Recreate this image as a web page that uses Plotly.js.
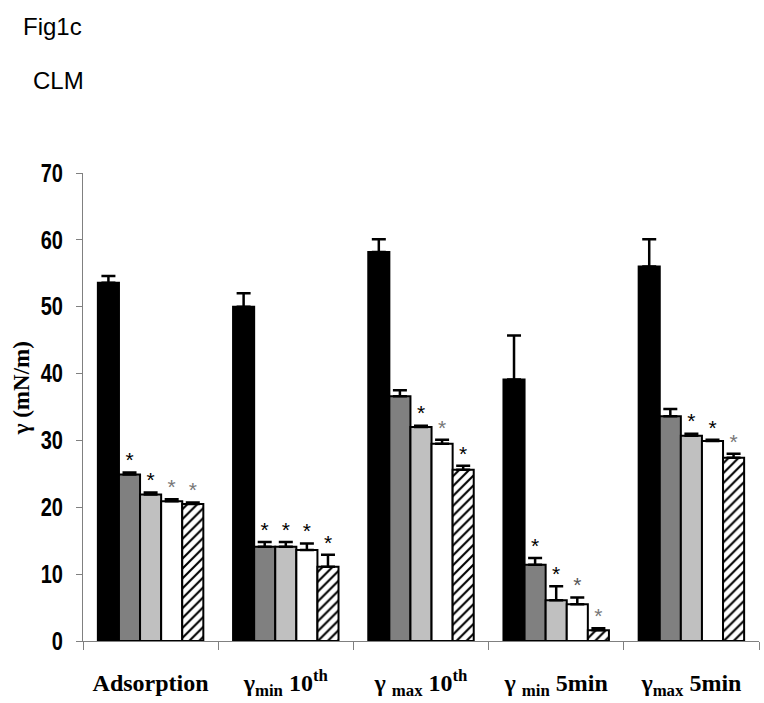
<!DOCTYPE html>
<html>
<head>
<meta charset="utf-8">
<script src="https://cdn.plot.ly/plotly-3.0.1.min.js"></script>
<style>html,body{margin:0;padding:0;background:#fff;}#chart{width:764px;height:703px;}</style>
</head>
<body>
<div id="chart"></div>
<script>
const categories = ["Adsorption", "γ<sub>min</sub> 10<sup>th</sup>", "γ <sub>max</sub> 10<sup>th</sup>", "γ <sub>min</sub> 5min", "γ<sub>max</sub> 5min"];
const tickValues = [0, 10, 20, 30, 40, 50, 60, 70];

const s1Values = [53.6, 50.0, 58.2, 39.1, 56.0];
const s1Errors = [1.0, 2.0, 1.9, 6.6, 4.1];
const s1Stars = ["", "", "", "", ""];
const s1StarColors = ["#000", "#000", "#000", "#000", "#000"];

const s2Values = [24.9, 14.1, 36.6, 11.4, 33.6];
const s2Errors = [0.3, 0.7, 0.9, 1.0, 1.1];
const s2Stars = ["*", "*", "", "*", ""];
const s2StarColors = ["#000", "#000", "#000", "#000", "#000"];

const s3Values = [21.9, 14.1, 32.0, 6.1, 30.7];
const s3Errors = [0.3, 0.7, 0.2, 2.1, 0.3];
const s3Stars = ["*", "*", "*", "*", "*"];
const s3StarColors = ["#000", "#000", "#000", "#000", "#000"];

const s4Values = [20.9, 13.6, 29.5, 5.5, 29.9];
const s4Errors = [0.3, 1.0, 0.6, 1.0, 0.2];
const s4Stars = ["*", "*", "*", "*", "*"];
const s4StarColors = ["#777", "#000", "#777", "#555", "#000"];

const s5Values = [20.5, 11.1, 25.6, 1.6, 27.4];
const s5Errors = [0.2, 1.8, 0.6, 0.3, 0.6];
const s5Stars = ["*", "*", "*", "*", "*"];
const s5StarColors = ["#777", "#000", "#000", "#777", "#777"];

const series = [
  {v: s1Values, e: s1Errors, s: s1Stars, c: s1StarColors, fill: "#000000", pattern: null},
  {v: s2Values, e: s2Errors, s: s2Stars, c: s2StarColors, fill: "#808080", pattern: null},
  {v: s3Values, e: s3Errors, s: s3Stars, c: s3StarColors, fill: "#c0c0c0", pattern: null},
  {v: s4Values, e: s4Errors, s: s4Stars, c: s4StarColors, fill: "#ffffff", pattern: null},
  {v: s5Values, e: s5Errors, s: s5Stars, c: s5StarColors, fill: "#ffffff", pattern: {shape: "/", fgcolor: "#000", bgcolor: "#fff", size: 7, solidity: 0.3}}
];

const traces = [];
series.forEach((sr, k) => {
  const marker = {color: sr.fill, line: {color: "#000", width: 2}};
  if (sr.pattern) marker.pattern = sr.pattern;
  traces.push({
    type: "bar", x: categories, y: sr.v, offsetgroup: "g" + k,
    marker: marker,
    error_y: {type: "data", array: sr.e, arrayminus: sr.e.map(() => 0), symmetric: false, color: "#000", thickness: 2.5, width: 7},
    hoverinfo: "skip"
  });
});
series.forEach((sr, k) => {
  traces.push({
    type: "scatter", mode: "text", x: categories, y: sr.v.map((v, i) => v + sr.e[i]),
    offsetgroup: "g" + k, text: sr.s, textposition: "top center",
    textfont: {family: "Liberation Sans, Arial, sans-serif", size: 21, color: sr.c},
    hoverinfo: "skip", cliponaxis: false
  });
});

const layout = {
  width: 764, height: 703,
  margin: {l: 83, r: 5, t: 173, b: 62},
  paper_bgcolor: "#fff", plot_bgcolor: "#fff",
  showlegend: false,
  barmode: "group", bargap: 0.22, bargroupgap: 0,
  scattermode: "group", scattergap: 0.22,
  xaxis: {
    type: "category", showline: true, linecolor: "#808080", linewidth: 1,
    ticks: "outside", tickson: "boundaries", ticklen: 8, tickcolor: "#808080",
    showgrid: false, zeroline: false, ticklabelstandoff: 20,
    tickfont: {family: "Liberation Serif, Times New Roman, serif", size: 24, color: "#000", weight: "bold"}
  },
  yaxis: {
    range: [0, 70], tickvals: tickValues, ticktext: tickValues.map(String),
    showline: true, linecolor: "#808080", linewidth: 1,
    ticks: "outside", ticklen: 6, tickcolor: "#808080",
    showgrid: false, zeroline: false, ticklabelstandoff: 8,
    tickfont: {family: "Liberation Sans, Arial, sans-serif", size: 25, color: "#000", weight: "bold"}
  },
  annotations: [
    {xref: "paper", yref: "paper", x: -0.092, y: 1.314, xanchor: "left", yanchor: "middle", showarrow: false, text: "Fig1c", font: {family: "Liberation Sans, Arial, sans-serif", size: 24, color: "#000"}},
    {xref: "paper", yref: "paper", x: -0.077, y: 1.197, xanchor: "left", yanchor: "middle", showarrow: false, text: "CLM", font: {family: "Liberation Sans, Arial, sans-serif", size: 24, color: "#000"}},
    {xref: "paper", yref: "paper", x: -0.091, y: 0.541, xanchor: "center", yanchor: "middle", textangle: -90, showarrow: false, text: "γ (mN/m)", font: {family: "Liberation Serif, Times New Roman, serif", size: 23, color: "#000", weight: "bold"}}
  ]
};

Plotly.newPlot("chart", traces, layout, {displayModeBar: false, staticPlot: true}).then(gd => {
  // narrow the y tick labels horizontally (reference uses a narrow bold face)
  gd.querySelectorAll(".ytick text").forEach(t => {
    const bb = t.getBBox();
    const xr = bb.x + bb.width;
    const prev = t.getAttribute("transform") || "";
    t.setAttribute("transform", prev + " translate(" + xr + ",0) scale(0.8,1) translate(" + (-xr) + ",0)");
  });
});
</script>
</body>
</html>
